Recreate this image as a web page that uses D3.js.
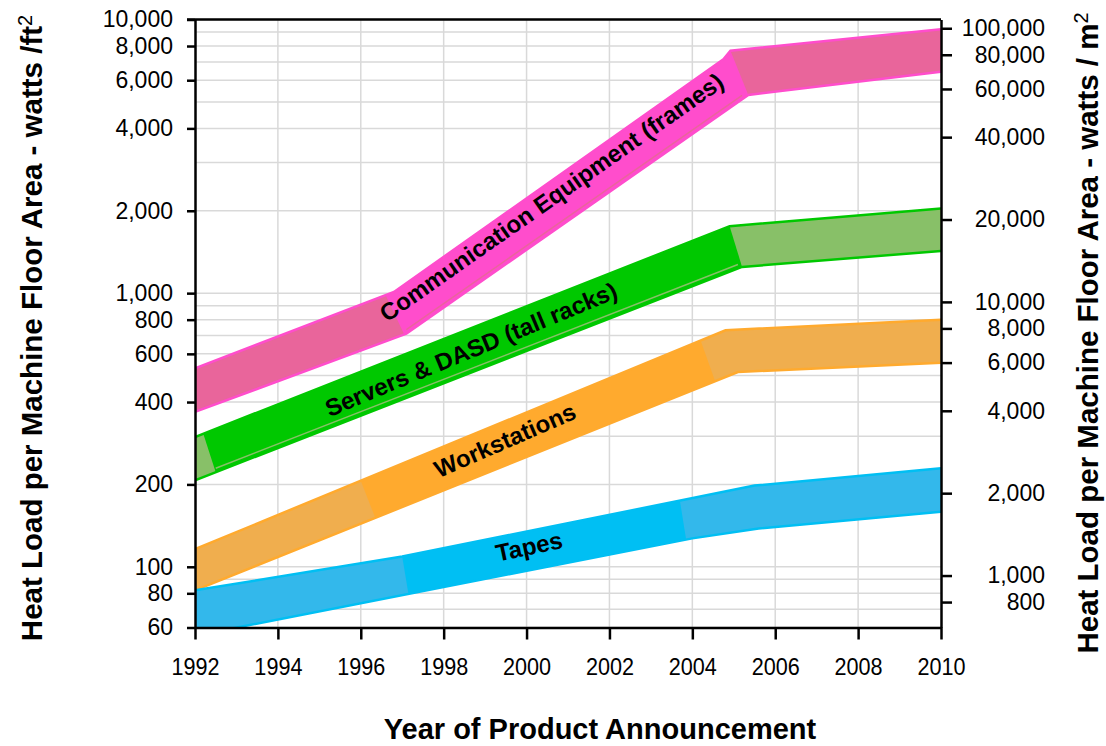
<!DOCTYPE html>
<html>
<head>
<meta charset="utf-8" />
<title>Heat load per machine floor area</title>
<script src="https://cdn.jsdelivr.net/npm/d3@7"></script>
<style>
  body { margin: 0; background: #fff; }
  svg text { font-family: "Liberation Sans", Arial, sans-serif; fill: #000; }
</style>
</head>
<body>
<svg id="chart" width="1106" height="746"></svg>
<script>
// tick labels
var yearTicks = [1992, 1994, 1996, 1998, 2000, 2002, 2004, 2006, 2008, 2010];
var ft2Ticks = [60, 80, 100, 200, 400, 600, 800, 1000, 2000, 4000, 6000, 8000, 10000];
var m2Ticks = [800, 1000, 2000, 4000, 6000, 8000, 10000, 20000, 40000, 60000, 80000, 100000];
var M2_PER_FT2 = 10.764;

// band edges, [year, watts/ft2]
var commUpper = [[1992, 531], [1996.8, 1010], [2004.75, 7150], [2004.92, 7690], [2010, 9210]];
var commLower = [[1992, 368], [1997.1, 711], [2005.35, 5300], [2010, 6440]];
var serversUpper = [[1992, 298], [2004.9, 1757], [2010, 2040]];
var serversLower = [[1992, 207], [2005.2, 1247], [2010, 1426]];
var workUpper = [[1992, 116], [2004.8, 732], [2010, 800]];
var workLower = [[1992, 82], [2005.1, 515], [2010, 557]];
var tapesUpper = [[1992, 82], [1997, 109], [2005.5, 198], [2010, 229]];
var tapesLower = [[1992, 56], [2004, 127], [2005.6, 138], [2010, 159]];

// lighter sections: [upper start, lower start, upper end, lower end] years
var commMuted = [[1992, 1992, 1996.6, 1997.05], [2004.92, 2005.35, 2010, 2010]];
var serversMuted = [[1992, 1992, 1992.2, 1992.5], [2004.9, 2005.2, 2010, 2010]];
var workMuted = [[1992, 1992, 1996.0, 1996.35], [2004.2, 2004.55, 2010, 2010]];
var tapesMuted = [[1992, 1992, 1997.0, 1997.15], [2003.7, 2003.85, 2010, 2010]];

// years between which a faint line runs just inside the lower edge
var commShade = [1997.1, 2005.2];
var serversShade = [1992.5, 2005.1];

var bands = [
  {label: "Communication Equipment (frames)", upper: commUpper, lower: commLower, muted: commMuted,
   shade: commShade, color: "#ff4dcc", light: "#e9659b", at: [2000.6, 2240], angle: -35},
  {label: "Servers & DASD (tall racks)", upper: serversUpper, lower: serversLower, muted: serversMuted,
   shade: serversShade, color: "#00c800", light: "#88c068", at: [1998.66, 623], angle: -22.5},
  {label: "Workstations", upper: workUpper, lower: workLower, muted: workMuted,
   shade: null, color: "#ffaa2e", light: "#f0ae4e", at: [1999.48, 290], angle: -23.5},
  {label: "Tapes", upper: tapesUpper, lower: tapesLower, muted: tapesMuted,
   shade: null, color: "#00bff3", light: "#33b8eb", at: [2000.06, 118.7], angle: -12}
];

var svg = d3.select("#chart");
var x = d3.scaleLinear().domain([1992, 2010]).range([195, 941]);
var y = d3.scaleLog().domain([60, 10000]).range([627.5, 19.5]);
var y2 = d3.scaleLog().domain([60 * M2_PER_FT2, 10000 * M2_PER_FT2]).range([627.5, 19.5]);

svg.append("rect").attr("width", 1106).attr("height", 746).attr("fill", "#fff");

// grid
var grid = svg.append("g").attr("stroke", "#d9d9d9").attr("stroke-width", 1.5);
grid.selectAll(".h").data(y.ticks()).enter().append("line")
  .attr("x1", x(1992)).attr("x2", x(2010))
  .attr("y1", function(d) { return y(d); }).attr("y2", function(d) { return y(d); });
grid.selectAll(".v").data(yearTicks.slice(1, -1)).enter().append("line")
  .attr("y1", y(60)).attr("y2", y(10000))
  .attr("x1", function(d) { return x(d); }).attr("x2", function(d) { return x(d); });

svg.append("clipPath").attr("id", "plot").append("rect")
  .attr("x", x(1992)).attr("y", y(10000))
  .attr("width", x(2010) - x(1992)).attr("height", y(60) - y(10000));

function px(pts) {
  return pts.map(function(p) { return [x(p[0]), y(p[1])]; });
}
// pixel y on an edge at a given year
function edgeAt(pts, yr) {
  var p = px(pts), xx = x(yr);
  for (var i = 0; i < p.length - 1; i++) {
    if (xx <= p[i + 1][0] || i == p.length - 2) {
      var t = (xx - p[i][0]) / (p[i + 1][0] - p[i][0]);
      return [xx, p[i][1] + t * (p[i + 1][1] - p[i][1])];
    }
  }
}
// part of an edge between two years
function edgePart(pts, a, b) {
  var out = [edgeAt(pts, a)];
  pts.forEach(function(p) { if (p[0] > a && p[0] < b) out.push([x(p[0]), y(p[1])]); });
  out.push(edgeAt(pts, b));
  return out;
}

var line = d3.line();
var layer = svg.append("g").attr("clip-path", "url(#plot)");

bands.forEach(function(b) {
  var g = layer.append("g");
  var poly = px(b.upper).concat(px(b.lower).reverse());
  g.append("path").attr("d", line(poly) + "Z").attr("fill", b.color);

  b.muted.forEach(function(m) {
    var top = edgePart(b.upper, m[0], m[2]);
    var bot = edgePart(b.lower, m[1], m[3]).reverse();
    g.append("path").attr("d", line(top.concat(bot)) + "Z").attr("fill", b.light);
  });

  if (b.shade) {
    var s = edgePart(b.lower, b.shade[0], b.shade[1]).map(function(p) { return [p[0], p[1] - 4]; });
    g.append("path").attr("d", line(s)).attr("fill", "none")
      .attr("stroke", b.light).attr("stroke-width", 1.5);
  }

  [b.upper, b.lower].forEach(function(e) {
    g.append("path").attr("d", line(px(e))).attr("fill", "none")
      .attr("stroke", b.color).attr("stroke-width", 2.5);
  });

  g.append("text")
    .attr("transform", "translate(" + x(b.at[0]) + "," + y(b.at[1]) + ") rotate(" + b.angle + ")")
    .attr("text-anchor", "middle").attr("dy", "0.35em")
    .style("font-size", "24px").style("font-weight", "bold")
    .text(b.label);
});

// axes
var axisStyle = function(g) {
  g.select(".domain").attr("stroke", "#000").attr("stroke-width", 2.5);
  g.selectAll(".tick line").attr("stroke", "#000").attr("stroke-width", 2.5);
  g.selectAll("text").attr("fill", "#000").style("font-family", "'Liberation Sans', Arial, sans-serif");
};

svg.append("g").attr("transform", "translate(0," + y(60) + ")")
  .call(d3.axisBottom(x).tickValues(yearTicks).tickFormat(d3.format("d"))
    .tickSize(12).tickSizeOuter(0).tickPadding(18))
  .call(axisStyle)
  .selectAll("text").style("font-size", "24px").attr("transform", "scale(0.9,1)");

svg.append("g").attr("transform", "translate(" + x(1992) + ",0)")
  .call(d3.axisLeft(y).tickValues(ft2Ticks).tickFormat(d3.format(","))
    .tickSize(8).tickSizeOuter(0).tickPadding(14))
  .call(axisStyle)
  .selectAll("text").style("font-size", "23px");

var right = svg.append("g").attr("transform", "translate(" + x(2010) + ",0)")
  .call(d3.axisRight(y2).tickValues(m2Ticks).tickFormat(d3.format(","))
    .tickSize(11).tickSizeOuter(0))
  .call(axisStyle);
right.selectAll("text").attr("x", 104).attr("text-anchor", "end").style("font-size", "23px");

// top border
svg.append("line").attr("x1", x(1992) - 8).attr("x2", x(2010))
  .attr("y1", y(10000)).attr("y2", y(10000))
  .attr("stroke", "#000").attr("stroke-width", 2.5);

// titles
svg.append("text").attr("x", 600).attr("y", 739).attr("text-anchor", "middle")
  .style("font-size", "29px").style("font-weight", "bold")
  .text("Year of Product Announcement");

function yTitle(cx, cy, size, unit) {
  var t = svg.append("text")
    .attr("transform", "translate(" + cx + "," + cy + ") rotate(-90)")
    .attr("text-anchor", "middle").attr("dy", "0.35em")
    .style("font-size", size + "px").style("font-weight", "bold");
  t.append("tspan").text("Heat Load per Machine Floor Area - watts " + unit);
  t.append("tspan").attr("dy", "-0.5em").style("font-size", "20px").style("font-weight", "normal").text("2");
}
yTitle(32, 328, 29.5, "/ft");
yTitle(1088, 333, 29.5, "/ m");
</script>
</body>
</html>
